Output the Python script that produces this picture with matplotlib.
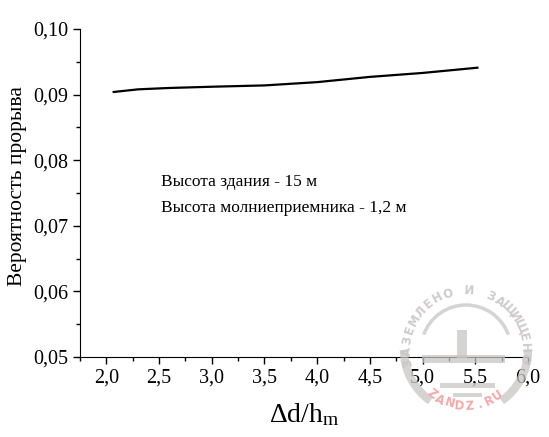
import numpy as np
import matplotlib
matplotlib.use('Agg')
import matplotlib.pyplot as plt
from matplotlib.patches import Arc, Rectangle
from matplotlib.ticker import MultipleLocator, FuncFormatter

# values
ratio = [2.07, 2.3, 2.58, 3.0, 3.5, 4.0, 4.5, 5.0, 5.52]
prob = [0.0904, 0.0908, 0.0910, 0.0912, 0.0914, 0.0919, 0.0927, 0.0933, 0.0941]
note_lines = ['Высота здания - 15 м', 'Высота молниеприемника - 1,2 м']

plt.rcParams['font.family'] = ['Liberation Serif', 'DejaVu Serif']
plt.rcParams['mathtext.fontset'] = 'custom'
plt.rcParams['mathtext.rm'] = 'Liberation Serif'
plt.rcParams['mathtext.it'] = 'Liberation Serif'

fig = plt.figure(figsize=(5.49, 4.37), dpi=100)
ax = fig.add_axes([80 / 549, 1 - 357 / 437, 448 / 549, 328 / 437])

ax.plot(ratio, prob, color='black', lw=1.6)

ax.set_xlim(1.75, 6.0)
ax.set_ylim(0.05, 0.10)
ax.spines['top'].set_visible(False)
ax.spines['right'].set_visible(False)
ax.xaxis.set_major_locator(MultipleLocator(0.5))
ax.xaxis.set_minor_locator(MultipleLocator(0.25))
ax.yaxis.set_major_locator(MultipleLocator(0.01))
ax.yaxis.set_minor_locator(MultipleLocator(0.005))
ax.xaxis.set_major_formatter(FuncFormatter(lambda v, p: f'{v:.1f}'.replace('.', ',')))
ax.yaxis.set_major_formatter(FuncFormatter(lambda v, p: f'{v:.2f}'.replace('.', ',')))
ax.tick_params(which='both', direction='out', width=1, labelsize=14.5)
ax.tick_params(which='major', length=5)
ax.tick_params(which='minor', length=3)

ax.set_ylabel('Вероятность прорыва', fontsize=15.5)
ax.yaxis.set_label_coords(-0.118, 0.52)
ax.set_xlabel(r'$\Delta$d/h$_{\rm m}$', fontsize=20, labelpad=10)

ax.text(2.52, 0.0767, note_lines[0], fontsize=12.5, va='center')
ax.text(2.52, 0.0727, note_lines[1], fontsize=12.5, va='center')

# watermark logo
wm = fig.add_axes([0, 0, 1, 1], zorder=5)
wm.set_xlim(0, 549)
wm.set_ylim(437, 0)
wm.axis('off')
cx, cy = 466, 350
grey = '#c9c5c5'
wm.add_patch(Arc((cx, cy), 124, 124, theta1=125, theta2=180, color=grey, lw=6, alpha=0.75))
wm.add_patch(Arc((cx, cy), 124, 124, theta1=0, theta2=55, color=grey, lw=6, alpha=0.75))
wm.add_patch(Arc((cx, cy), 90, 90, theta1=200, theta2=340, color=grey, lw=2.5, alpha=0.75))
wm.add_patch(Rectangle((cx - 9, cy - 20), 10, 28, color=grey, alpha=0.75, lw=0))
wm.add_patch(Rectangle((cx - 44, cy + 5), 83, 8, color=grey, alpha=0.75, lw=0))
wm.add_patch(Rectangle((cx - 26, cy + 33), 55, 5, color=grey, alpha=0.75, lw=0))
wm.add_patch(Rectangle((cx - 13, cy + 43), 29, 4, color=grey, alpha=0.75, lw=0))
top_text = 'ЗАЗЕМЛЕНО И ЗАЩИЩЕНО'
angs = np.linspace(192, -8, len(top_text))
for ch, a in zip(top_text, angs):
    r = 59
    x = cx + r * np.cos(np.radians(a))
    y = cy - r * np.sin(np.radians(a))
    wm.text(x, y, ch, fontsize=8.5, color=grey, fontweight='bold', family='DejaVu Sans',
            rotation=a - 90, ha='center', va='center', alpha=0.9)
bot_text = 'ZANDZ.RU'
angs = np.linspace(232, 305, len(bot_text))
for ch, a in zip(bot_text, angs):
    r = 56
    x = cx + r * np.cos(np.radians(a))
    y = cy - r * np.sin(np.radians(a))
    wm.text(x, y, ch, fontsize=8.5, color='#f5a6a6', fontweight='bold', family='DejaVu Sans',
            rotation=a + 90, ha='center', va='center')

fig.savefig('out.png', dpi=100)
